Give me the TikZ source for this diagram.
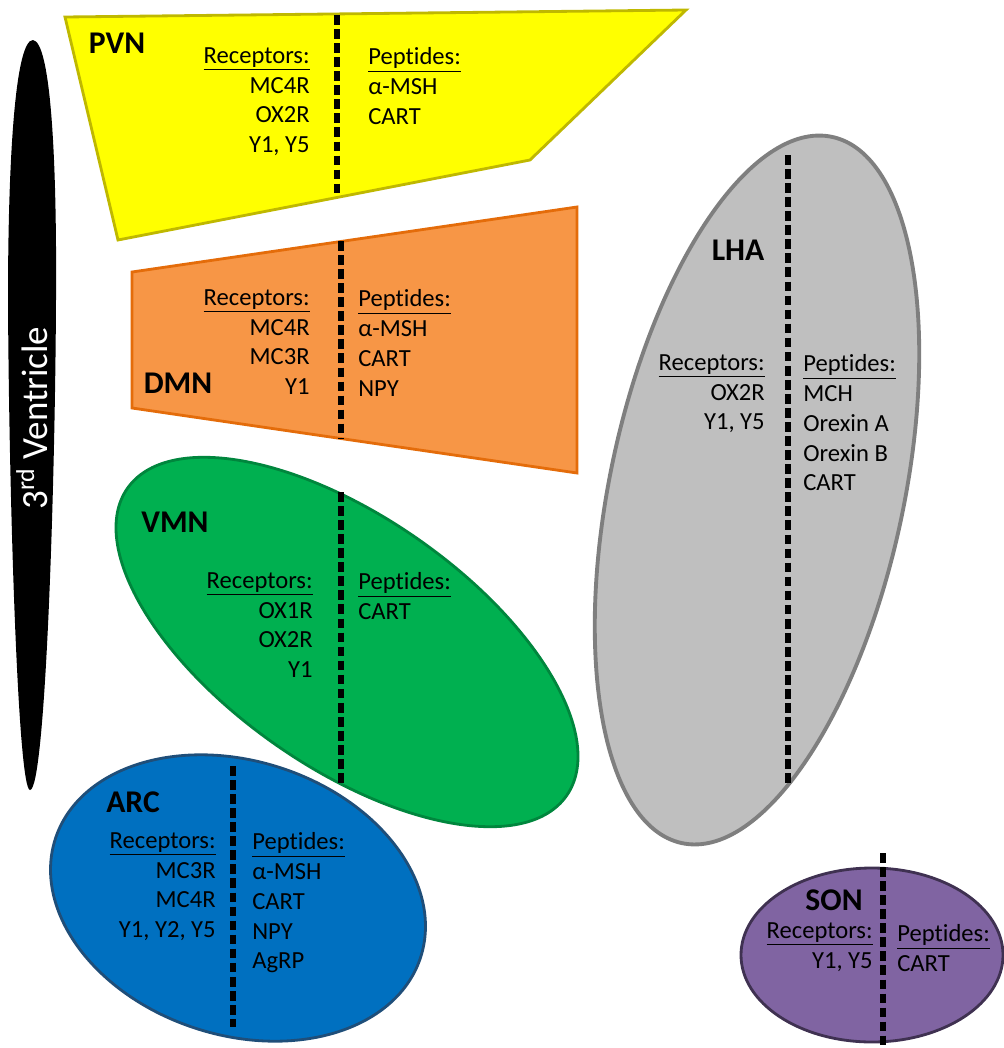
\documentclass[tikz,border=0pt]{standalone}
\usepackage{fontspec}
\setmainfont{Carlito}[Ligatures={NoCommon,NoRare,NoContextual}]
\usetikzlibrary{positioning}
\definecolor{pvnyellow}{HTML}{FFFF00}
\definecolor{pvnedge}{HTML}{BFB800}
\definecolor{dmnorange}{HTML}{F79646}
\definecolor{dmnedge}{HTML}{E46C0A}
\definecolor{vmngreen}{HTML}{00B050}
\definecolor{vmnedge}{HTML}{00863D}
\definecolor{arcblue}{HTML}{0070C0}
\definecolor{arcedge}{HTML}{1F4E79}
\definecolor{lhagrey}{HTML}{BFBFBF}
\definecolor{lhaedge}{HTML}{7F7F7F}
\definecolor{sonpurple}{HTML}{8064A2}
\definecolor{sonedge}{HTML}{3F3151}

\begin{document}
\begin{tikzpicture}[
    x=0.02cm, y=-0.02cm,
    region/.style={line width=1.6pt, line join=miter},
    divider/.style={black, line width=3pt, dash pattern=on 5.5pt off 2.5pt},
    title/.style={font=\fontsize{18}{20}\selectfont\bfseries, inner sep=0pt},
    reclist/.style={anchor=north east, align=right, inner sep=0pt,
        font=\fontsize{14}{17}\selectfont},
    peplist/.style={anchor=north west, align=left, inner sep=0pt,
        font=\fontsize{14}{17}\selectfont},
]
\useasboundingbox (0,0) rectangle (1004,1048);

% 3rd ventricle
\fill[black] (33,40) .. controls (50,42) and (57,150) .. (56,300)
    .. controls (55,500) and (45,790) .. (30,790)
    .. controls (18,790) and (9,500) .. (8,300)
    .. controls (8,150) and (16,40) .. (33,40);
\node[white, rotate=90, inner sep=0pt, font=\fontsize{21}{24}\selectfont] (ventricle) at (32,418)
    {3\textsuperscript{rd} Ventricle};

% nuclei
\filldraw[region, fill=pvnyellow, draw=pvnedge] (65,17) -- (686,10) -- (530,160) -- (118,240) -- cycle;
\filldraw[region, fill=dmnorange, draw=dmnedge] (132,272) -- (577,207) -- (577,473) -- (132,408) -- cycle;
\filldraw[region, fill=vmngreen, draw=vmnedge, rotate around={-35:(347,642)}]
    (347,642) ellipse [x radius=268, y radius=125];
\filldraw[region, fill=arcblue, draw=arcedge, rotate around={-18:(238,898)}]
    (238,898) ellipse [x radius=192, y radius=137];
\filldraw[region, line width=2.2pt, fill=lhagrey, draw=lhaedge, rotate around={78:(757,490)}]
    (757,490) ellipse [x radius=361, y radius=147];
\filldraw[region, fill=sonpurple, draw=sonedge] (872,955) ellipse [x radius=131, y radius=87];

% dividers
\coordinate (pvnTop) at (337,15);  \coordinate (pvnBot) at (337,197);
\coordinate (dmnTop) at (341,241); \coordinate (dmnBot) at (341,438);
\coordinate (vmnTop) at (341,492); \coordinate (vmnBot) at (341,783);
\coordinate (arcTop) at (233,766); \coordinate (arcBot) at (233,1027);
\coordinate (lhaTop) at (788,155); \coordinate (lhaBot) at (788,783);
\coordinate (sonTop) at (883,853); \coordinate (sonBot) at (883,1048);
\foreach \r in {pvn,dmn,vmn,arc,lha,son}
    \draw[divider] (\r Top) -- (\r Bot);

% PVN
\node[title] (pvn) at (117,43) {PVN};
\node[reclist] (pvnRec) at (310,47) {\underline{Receptors:}\\MC4R\\OX2R\\Y1, Y5};
\node[peplist] (pvnPep) at (368,47) {\underline{Peptides:}\\α-MSH\\CART};

% DMN
\node[title] (dmn) at (178,383) {DMN};
\node[reclist] (dmnRec) at (310,289) {\underline{Receptors:}\\MC4R\\MC3R\\Y1};
\node[peplist] (dmnPep) at (358,289) {\underline{Peptides:}\\α-MSH\\CART\\NPY};

% VMN
\node[title] (vmn) at (175,522) {VMN};
\node[reclist] (vmnRec) at (313,572) {\underline{Receptors:}\\OX1R\\OX2R\\Y1};
\node[peplist] (vmnPep) at (358,572) {\underline{Peptides:}\\CART};

% ARC
\node[title] (arc) at (133,802) {ARC};
\node[reclist] (arcRec) at (216,832) {\underline{Receptors:}\\MC3R\\MC4R\\Y1, Y2, Y5};
\node[peplist] (arcPep) at (252,832) {\underline{Peptides:}\\α-MSH\\CART\\NPY\\AgRP};

% LHA
\node[title] (lha) at (738,250) {LHA};
\node[reclist] (lhaRec) at (765,354) {\underline{Receptors:}\\OX2R\\Y1, Y5};
\node[peplist] (lhaPep) at (803,354) {\underline{Peptides:}\\MCH\\Orexin A\\Orexin B\\CART};

% SON
\node[title] (son) at (834,900) {SON};
\node[reclist] (sonRec) at (873,922) {\underline{Receptors:}\\Y1, Y5};
\node[peplist] (sonPep) at (897,924) {\underline{Peptides:}\\CART};
\end{tikzpicture}
\end{document}
